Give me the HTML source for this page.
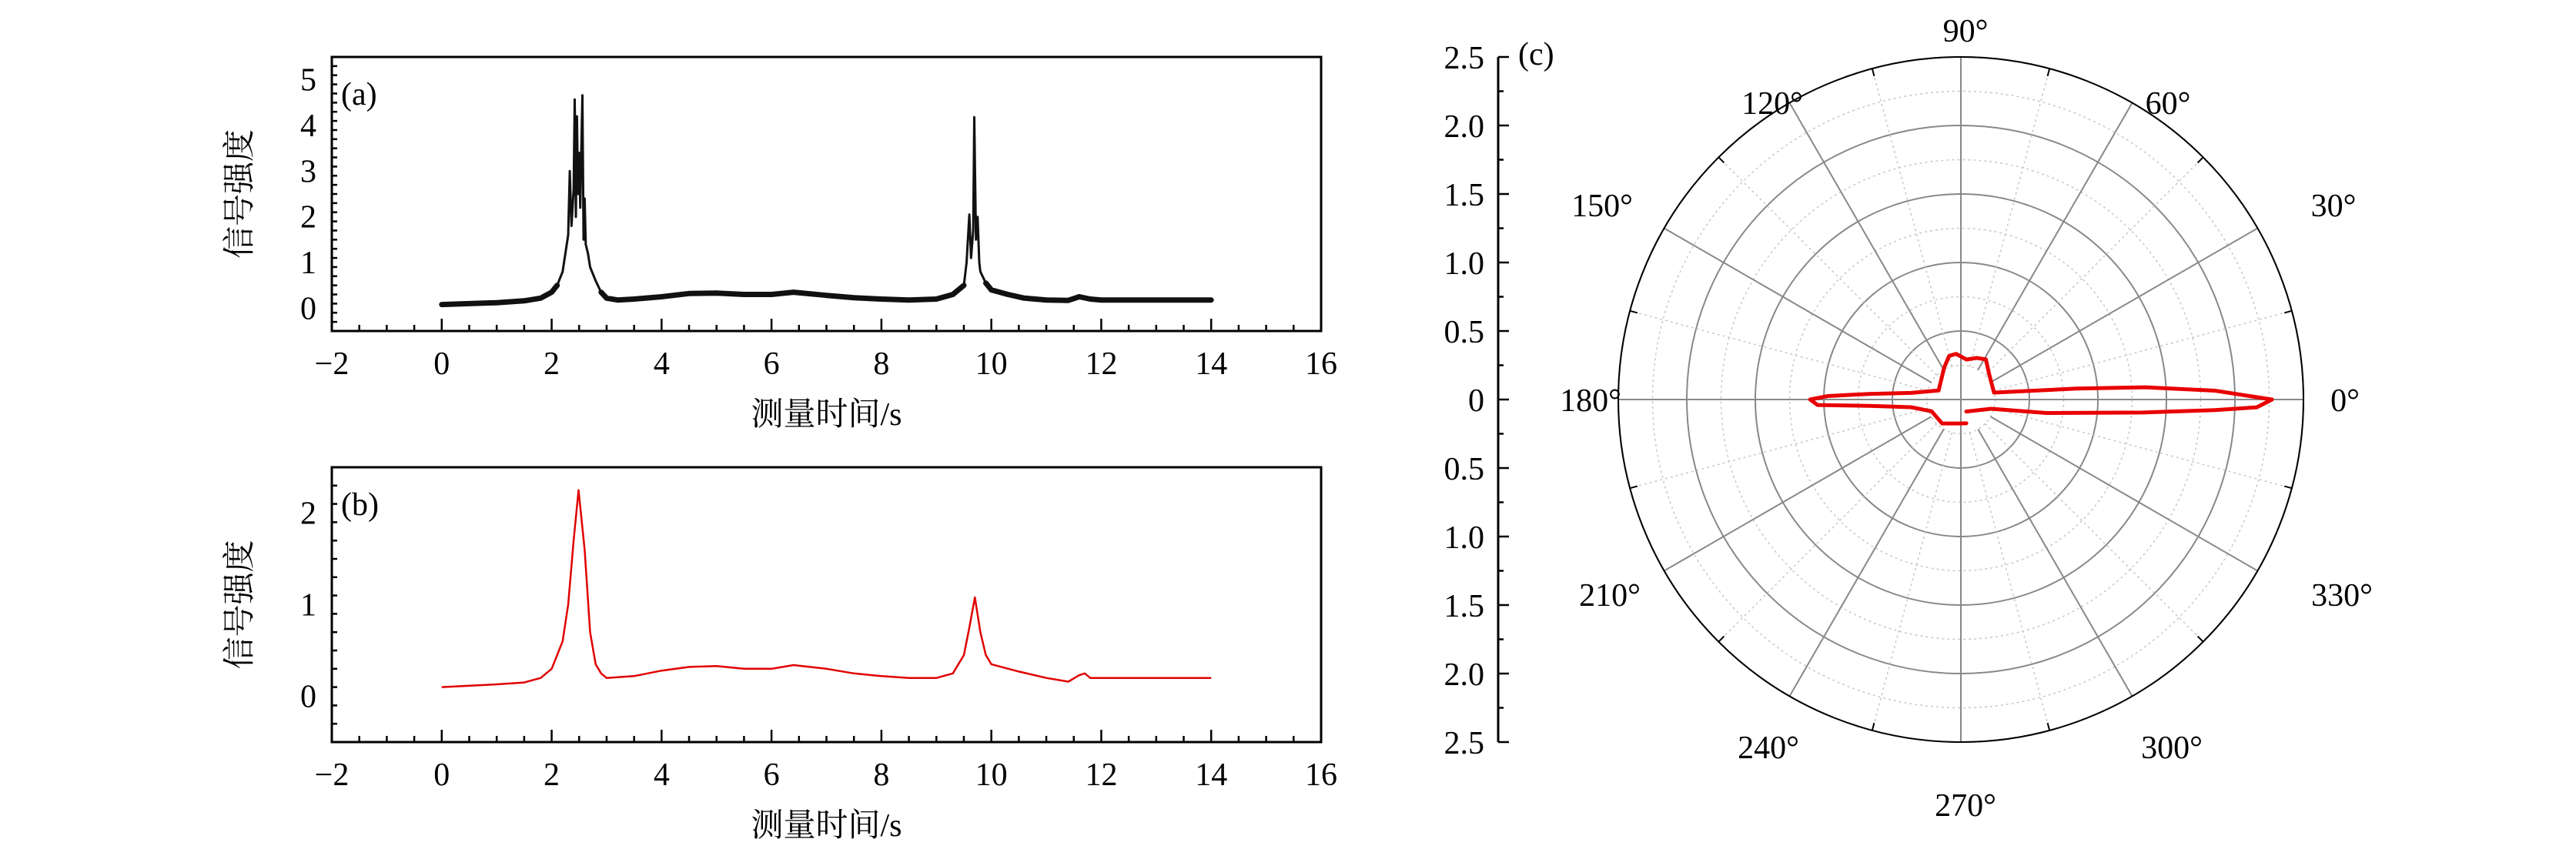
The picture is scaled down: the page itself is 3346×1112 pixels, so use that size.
<!DOCTYPE html>
<html><head><meta charset="utf-8"><style>
html,body{margin:0;padding:0;background:#fff;}
svg{display:block;}
text{font-family:"Liberation Serif","Noto Serif CJK SC",serif;fill:#000;}
</style></head><body>
<svg id="fig" width="3346" height="1112" viewBox="0 0 3346 1112" xmlns="http://www.w3.org/2000/svg">
<g id="ga"></g>
<g id="gb"></g>
<g id="gc"></g>
</svg>
<script>
const NS="http://www.w3.org/2000/svg";
// ---- data panel (a)
const aTimes=[0,0.5,1,1.5,1.8,2.0,2.1,2.2,2.25,2.3,2.33,2.36,2.4,2.42,2.44,2.46,2.48,2.5,2.52,2.54,2.56,2.58,2.6,2.62,2.66,2.7,2.8,2.9,3.0,3.2,3.5,4,4.5,5,5.5,6,6.4,7,7.5,8,8.5,9,9.3,9.5,9.55,9.6,9.63,9.67,9.69,9.72,9.75,9.78,9.8,9.9,10,10.3,10.6,11,11.4,11.6,11.8,12,13,14];
const aValues=[0.08,0.1,0.12,0.16,0.22,0.35,0.5,0.8,1.2,1.6,3.0,1.8,2.6,4.57,2.0,4.2,2.5,3.4,2.2,3.5,4.66,1.5,2.4,1.4,1.2,0.9,0.6,0.35,0.22,0.18,0.2,0.25,0.32,0.33,0.3,0.3,0.35,0.28,0.23,0.2,0.18,0.2,0.3,0.5,1.0,2.05,1.1,1.7,4.18,1.5,2.0,1.0,0.8,0.55,0.4,0.3,0.22,0.18,0.17,0.25,0.2,0.18,0.18,0.18];
// ---- data panel (b)
const bTimes=[0,1,1.5,1.8,2,2.2,2.3,2.4,2.49,2.6,2.7,2.8,2.9,3,3.5,4,4.5,5,5.5,6,6.4,7,7.5,8,8.5,9,9.3,9.5,9.6,9.7,9.8,9.9,10,10.5,11,11.4,11.6,11.7,11.8,12,14];
const bValues=[0.1,0.13,0.15,0.2,0.3,0.6,1.0,1.7,2.25,1.6,0.7,0.35,0.25,0.2,0.22,0.28,0.32,0.33,0.3,0.3,0.34,0.3,0.25,0.22,0.2,0.2,0.25,0.45,0.75,1.08,0.7,0.45,0.35,0.27,0.2,0.16,0.23,0.25,0.2,0.2,0.2];
const xTicks=["−2","0","2","4","6","8","10","12","14","16"];
const aYTicks=["0","1","2","3","4","5"];
const bYTicks=["0","1","2"];
// ---- data panel (c) polar: angle (deg), radius
const cAngles=[0,2,3.8,5.4,11.8,43,58,69,82,96,105,117.6,158,172.4,176.5,178.5,180,182.2,184,188.8,202,231.8,243.6,266.5,283];
const cRadii=[2.27,1.855,1.35,0.85,0.247,0.28,0.345,0.325,0.295,0.335,0.33,0.263,0.175,0.367,0.67,0.97,1.1,1.046,0.668,0.368,0.23,0.222,0.195,0.175,0.178];
const cAngles2=[294,343,351,355.9,357.6,358.5,360];
const cRadii2=[0.096,0.23,0.63,1.33,1.855,2.16,2.27];
const rTicks=["2.5","2.0","1.5","1.0","0.5","0","0.5","1.0","1.5","2.0","2.5"];
const angleLabels=["0°","30°","60°","90°","120°","150°","180°","210°","240°","270°","300°","330°"];
// label anchor offsets (layout, pixels from centre)
const angleLabelPos=[[499,0],[484,-253],[269,-386],[6,-480],[-245,-386],[-466,-253],[-481,0],[-456,253],[-250,451],[6,526],[274,451],[495,253]];

function mk(tag,attrs,parent){const e=document.createElementNS(NS,tag);for(const k in attrs)e.setAttribute(k,attrs[k]);parent.appendChild(e);return e;}

function panel(g,box,ymin,ymax,yTicks,times,vals,color,sw,label,name,band){
  const sx=t=>box.l+(t+2)/18*(box.r-box.l);
  const sy=v=>box.b-(v-ymin)/(ymax-ymin)*(box.b-box.t);
  for(let t=-2;t<=16.001;t+=0.5){
    const major=Math.abs(t/2-Math.round(t/2))<1e-6;
    const ln=mk('line',{x1:sx(t),x2:sx(t),y1:box.b,y2:box.b-(major?16:8),stroke:'#000','stroke-width':2.5},g);
    
    
  }
  xTicks.forEach((s,i)=>{const t=mk('text',{x:sx(-2+2*i),y:box.b+56,'font-size':42,'text-anchor':'middle'},g);t.textContent=s;
    
    });
  for(let v=ymin;v<=ymax+1e-6;v+=0.2){
    const major=Math.abs(v-Math.round(v))<1e-6;
    const ln=mk('line',{x1:box.l,x2:box.l+(major?14:7),y1:sy(v),y2:sy(v),stroke:'#000','stroke-width':2.5},g);
    
    
  }
  yTicks.forEach((s,i)=>{const t=mk('text',{x:box.l-20,y:sy(+s)+14,'font-size':42,'text-anchor':'end'},g);t.textContent=s;
    
    });
  const fr=mk('rect',{x:box.l,y:box.t,width:box.r-box.l,height:box.b-box.t,fill:'none',stroke:'#000','stroke-width':3},g);
  
  
  if(band){
    let d2='';
    for(let i=1;i<times.length;i++){
      if(vals[i-1]<0.6&&vals[i]<0.6) d2+='M'+sx(times[i-1]).toFixed(1)+','+sy(vals[i-1]).toFixed(1)+'L'+sx(times[i]).toFixed(1)+','+sy(vals[i]).toFixed(1);
    }
    const p2=mk('path',{d:d2,fill:'none',stroke:color,'stroke-width':7,'stroke-linecap':'round'},g);
    
    
  }
  const d=times.map((t,i)=>(i?'L':'M')+sx(t).toFixed(1)+','+sy(vals[i]).toFixed(1)).join(' ');
  const p=mk('path',{d:d,fill:'none',stroke:color,'stroke-width':sw,'stroke-linejoin':'round'},g);
  
  
  const lb=mk('text',{x:box.l+12,y:box.t+62,'font-size':42},g);lb.textContent=label;
  
  
  const xl=mk('text',{x:(box.l+box.r)/2,y:box.b+122,'font-size':42,'text-anchor':'middle'},g);xl.textContent='测量时间/s';
  
  
  const cy=(box.t+box.b)/2;
  const yl=mk('text',{x:312,y:cy,'font-size':42,'text-anchor':'middle','dominant-baseline':'central',transform:`rotate(-90 312 ${cy})`},g);yl.textContent='信号强度';
  
  
}
panel(document.getElementById('ga'),{l:431,r:1716,t:74,b:430},-0.5,5.5,aYTicks,aTimes,aValues,'#111',3,'(a)','signal-series-a',true);
panel(document.getElementById('gb'),{l:431,r:1716,t:607,b:964},-0.5,2.5,bYTicks,bTimes,bValues,'#e00000',2.5,'(b)','signal-series-b',false);

(function(){
  const g=document.getElementById('gc');
  const cx=2547,cy=519,R=445,rmax=2.5;
  const sr=r=>r/rmax*R;
  for(let k=1;k<=10;k++){
    const solid=k%2===0;
    const c=mk('circle',{cx:cx,cy:cy,r:sr(k*0.25),fill:'none',stroke:solid?'#888':'#c8c8c8','stroke-width':solid?2:1.5,'stroke-dasharray':solid?'none':'3,4'},g);
    
    
  }
  for(let a=0;a<360;a+=15){
    const solid=a%30===0;
    const rad=a*Math.PI/180;
    const r0=(a%90===0)?0:sr(0.25);
    const ln=mk('line',{x1:cx+r0*Math.cos(rad),y1:cy-r0*Math.sin(rad),x2:cx+R*Math.cos(rad),y2:cy-R*Math.sin(rad),stroke:solid?'#888':'#c8c8c8','stroke-width':solid?2:1.5,'stroke-dasharray':solid?'none':'3,4'},g);
    
    
    if(!solid){const t=mk('line',{x1:cx+(R-10)*Math.cos(rad),y1:cy-(R-10)*Math.sin(rad),x2:cx+R*Math.cos(rad),y2:cy-R*Math.sin(rad),stroke:'#000','stroke-width':2},g);
      }
  }
  const oc=mk('circle',{cx:cx,cy:cy,r:R,fill:'none',stroke:'#000','stroke-width':2},g);
  
  
  angleLabels.forEach((s,i)=>{
    const p=angleLabelPos[i];
    const t=mk('text',{x:cx+p[0],y:cy+p[1]+15,'font-size':42,'text-anchor':'middle'},g);t.textContent=s;
    
    
  });
  const ax=1946;
  const al=mk('line',{x1:ax,x2:ax,y1:cy-R,y2:cy+R,stroke:'#000','stroke-width':3},g);
  
  
  for(let k=-10;k<=10;k++){
    const major=k%2===0;const y=cy+k*sr(0.25);
    const ln=mk('line',{x1:ax,x2:ax+(major?14:7),y1:y,y2:y,stroke:'#000','stroke-width':2.5},g);
    
    
  }
  rTicks.forEach((s,i)=>{const y=cy-R+i*sr(0.5);
    const t=mk('text',{x:ax-18,y:y+15,'font-size':42,'text-anchor':'end'},g);t.textContent=s;
    
    });
  const lb=mk('text',{x:1972,y:84,'font-size':42},g);lb.textContent='(c)';
  
  
  function trace(angs,rs,name){
    const d=angs.map((a,i)=>{const rad=a*Math.PI/180;return (i?'L':'M')+(cx+sr(rs[i])*Math.cos(rad)).toFixed(1)+','+(cy-sr(rs[i])*Math.sin(rad)).toFixed(1);}).join(' ');
    const p=mk('path',{d:d,fill:'none',stroke:'#e80000','stroke-width':5,'stroke-linejoin':'round','stroke-linecap':'round'},g);
    
    
  }
  trace(cAngles,cRadii,'polar-pattern-main');
  trace(cAngles2,cRadii2,'polar-pattern-lower');
})();
</script>
</body></html>
